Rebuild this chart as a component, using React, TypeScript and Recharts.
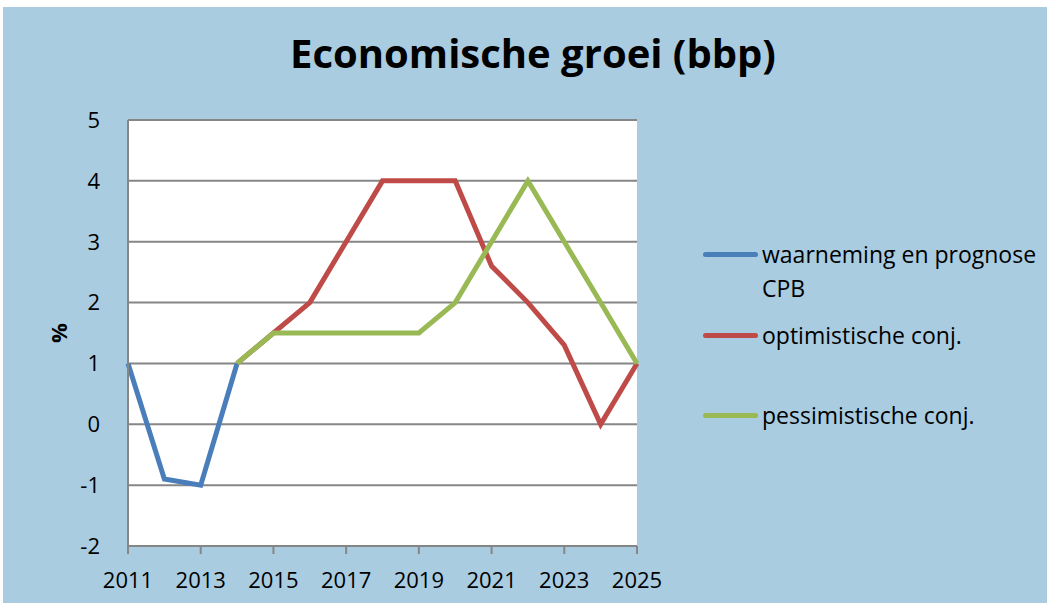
import { LineChart, Line, XAxis, YAxis, CartesianGrid } from 'recharts';

const years = [2011, 2012, 2013, 2014, 2015, 2016, 2017, 2018, 2019, 2020, 2021, 2022, 2023, 2024, 2025];
const cpb = [1, -0.9, -1, 1, null, null, null, null, null, null, null, null, null, null, null];
const optimistisch = [null, null, null, 1, 1.5, 2, 3, 4, 4, 4, 2.6, 2, 1.3, 0, 1];
const pessimistisch = [null, null, null, 1, 1.5, 1.5, 1.5, 1.5, 1.5, 2, 3, 4, 3, 2, 1];
const xTicks = [2011, 2013, 2015, 2017, 2019, 2021, 2023, 2025];
const yTicks = [-2, -1, 0, 1, 2, 3, 4, 5];

const series = [
  { key: 'cpb', name: 'waarneming en prognose CPB', color: '#4A7EBB' },
  { key: 'opt', name: 'optimistische conj.', color: '#BE4B48' },
  { key: 'pes', name: 'pessimistische conj.', color: '#98B954' },
];

const data = years.map((year, i) => ({
  year,
  cpb: cpb[i],
  opt: optimistisch[i],
  pes: pessimistisch[i],
}));

const FONT = '"Open Sans", sans-serif';

// legend sits outside the chart so it doesn't shrink the plot area
const LegendBox = () => (
  <div
    style={{
      position: 'absolute',
      left: 703,
      top: 237,
      width: 345,
      fontFamily: FONT,
      fontSize: 23,
      color: '#000',
    }}
  >
    {series.map((s, i) => (
      <div key={s.key} style={{ display: 'flex', alignItems: 'flex-start', height: i === 0 ? 81 : 80 }}>
        <div
          style={{
            width: 55,
            height: 5,
            borderRadius: 3,
            background: s.color,
            marginTop: 15,
            marginRight: 4,
            flexShrink: 0,
          }}
        />
        <div style={{ width: 280, lineHeight: '34px' }}>{s.name}</div>
      </div>
    ))}
  </div>
);

const App = () => {
  return (
    <div style={{ position: 'absolute', left: 0, top: 0, width: 1052, height: 606, background: '#fff' }}>
      <div
        style={{
          position: 'absolute',
          left: 3,
          top: 7,
          width: 1044,
          height: 596,
          background: '#A9CCE1',
        }}
      />
      <div
        style={{
          position: 'absolute',
          left: 0,
          top: 25,
          width: 1066,
          textAlign: 'center',
          fontFamily: FONT,
          fontWeight: 700,
          fontSize: 40,
          color: '#000',
        }}
      >
        Economische groei (bbp)
      </div>
      <div style={{ position: 'absolute', left: 0, top: 0 }}>
        <LineChart
          width={1052}
          height={606}
          data={data}
          margin={{ top: 120, right: 415, left: 68, bottom: 10 }}
          style={{ fontFamily: FONT }}
        >
          <CartesianGrid vertical={false} stroke="#868686" strokeWidth={2} fill="#fff" />
          <XAxis
            dataKey="year"
            type="number"
            domain={[2011, 2025]}
            ticks={xTicks}
            interval={0}
            height={50}
            stroke="#868686"
            strokeWidth={2}
            tickSize={8}
            tick={{ fontSize: 22, fill: '#000' }}
            tickMargin={18}
          />
          <YAxis
            domain={[-2, 5]}
            ticks={yTicks}
            width={60}
            stroke="#868686"
            strokeWidth={2}
            tickLine={false}
            tickMargin={22}
            tick={{ fontSize: 22, fill: '#000' }}
            label={({ viewBox }: any) => (
              <text
                x={viewBox.x - 10}
                y={viewBox.y + viewBox.height / 2}
                transform={`rotate(-90 ${viewBox.x - 10} ${viewBox.y + viewBox.height / 2})`}
                textAnchor="middle"
                dominantBaseline="central"
                fontSize={22}
                fontWeight={700}
                fill="#000"
              >
                %
              </text>
            )}
          />
          {series.map((s) => (
            <Line
              key={s.key}
              dataKey={s.key}
              name={s.name}
              stroke={s.color}
              strokeWidth={5}
              dot={false}
              activeDot={false}
              isAnimationActive={false}
              strokeLinejoin="miter"
            />
          ))}
        </LineChart>
      </div>
      <LegendBox />
    </div>
  );
};

export default App;
